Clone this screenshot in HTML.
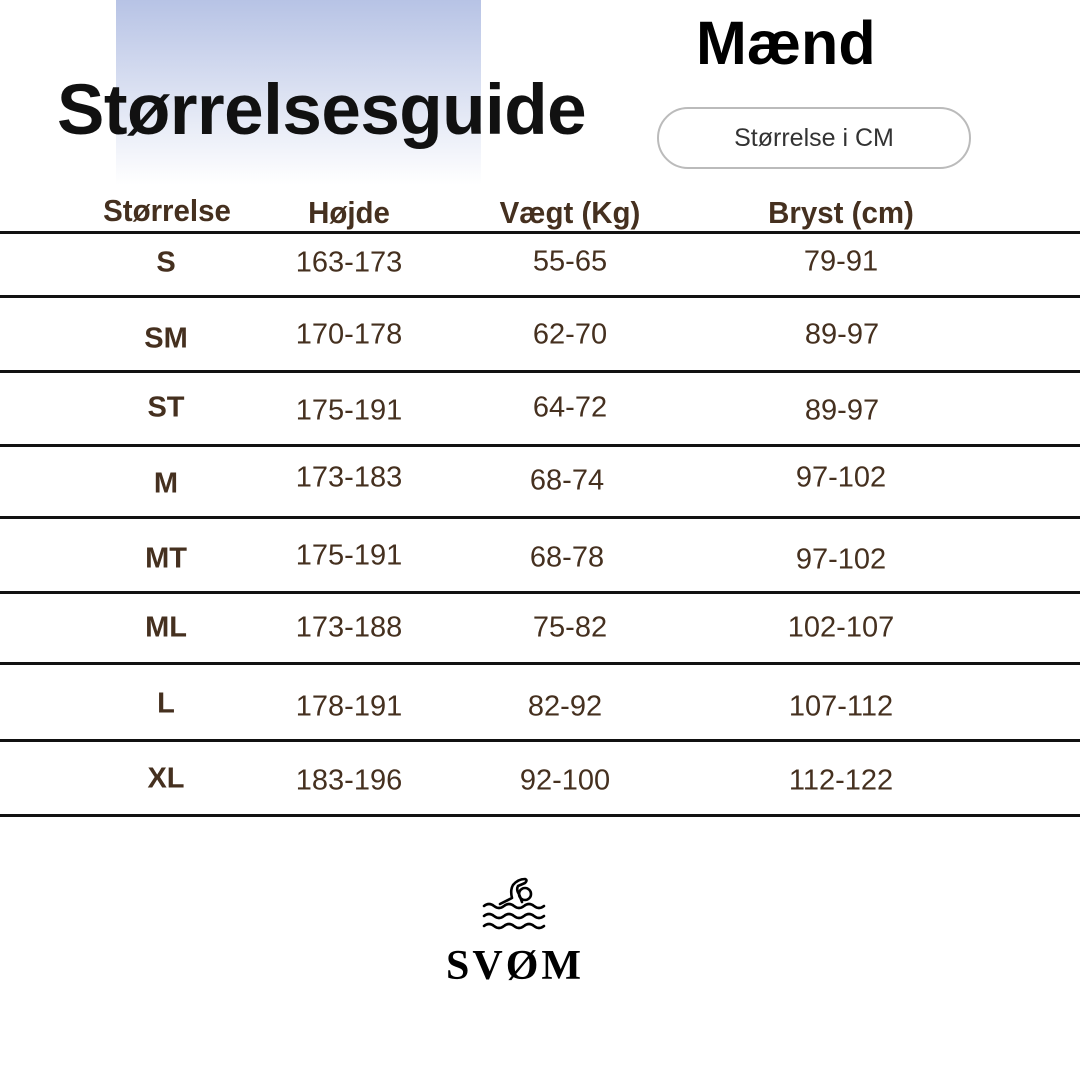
<!DOCTYPE html>
<html><head><meta charset="utf-8"><style>
body{margin:0;width:1080px;height:1080px;background:#fff;position:relative;overflow:hidden;font-family:"Liberation Sans",sans-serif}
.a{position:absolute;white-space:nowrap;transform:translate(-50%,-50%);color:#45301f;font-size:29px}
.b{font-weight:bold}
.h{font-weight:bold;font-size:31px;transform:translate(-50%,-50%) scaleX(0.95)}
.l{position:absolute;left:0;width:1080px;height:3px;background:#111}
</style></head><body>
<div style="position:absolute;left:116px;top:0;width:365px;height:185px;background:linear-gradient(#b7c3e5,#fff)"></div>
<div style="position:absolute;left:57px;top:70px;font-weight:bold;font-size:71px;color:#111;letter-spacing:-0.5px">Størrelsesguide</div>
<div style="position:absolute;left:696px;top:8px;font-weight:bold;font-size:61px;color:#000">Mænd</div>
<div style="position:absolute;left:657px;top:107px;width:310px;height:58px;border:2px solid #bbb;border-radius:31px;text-align:center;line-height:58px;font-size:25px;color:#333">Størrelse i CM</div>
<div class="a h" style="left:167px;top:211px">Størrelse</div>
<div class="a h" style="left:349px;top:213px">Højde</div>
<div class="a h" style="left:570px;top:213px">Vægt (Kg)</div>
<div class="a h" style="left:841px;top:213px">Bryst (cm)</div>
<div class="l" style="top:231px"></div><div class="l" style="top:295px"></div><div class="l" style="top:370px"></div><div class="l" style="top:444px"></div><div class="l" style="top:516px"></div><div class="l" style="top:591px"></div><div class="l" style="top:662px"></div><div class="l" style="top:739px"></div><div class="l" style="top:814px"></div>

<div class="a b" style="left:166px;top:263px">S</div><div class="a" style="left:349px;top:263px">163-173</div><div class="a" style="left:570px;top:262px">55-65</div><div class="a" style="left:841px;top:262px">79-91</div>
<div class="a b" style="left:166px;top:339px">SM</div><div class="a" style="left:349px;top:335px">170-178</div><div class="a" style="left:570px;top:335px">62-70</div><div class="a" style="left:842px;top:335px">89-97</div>
<div class="a b" style="left:166px;top:408px">ST</div><div class="a" style="left:349px;top:411px">175-191</div><div class="a" style="left:570px;top:408px">64-72</div><div class="a" style="left:842px;top:411px">89-97</div>
<div class="a b" style="left:166px;top:484px">M</div><div class="a" style="left:349px;top:478px">173-183</div><div class="a" style="left:567px;top:481px">68-74</div><div class="a" style="left:841px;top:478px">97-102</div>
<div class="a b" style="left:166px;top:559px">MT</div><div class="a" style="left:349px;top:556px">175-191</div><div class="a" style="left:567px;top:558px">68-78</div><div class="a" style="left:841px;top:560px">97-102</div>
<div class="a b" style="left:166px;top:628px">ML</div><div class="a" style="left:349px;top:628px">173-188</div><div class="a" style="left:570px;top:628px">75-82</div><div class="a" style="left:841px;top:628px">102-107</div>
<div class="a b" style="left:166px;top:704px">L</div><div class="a" style="left:349px;top:707px">178-191</div><div class="a" style="left:565px;top:707px">82-92</div><div class="a" style="left:841px;top:707px">107-112</div>
<div class="a b" style="left:166px;top:779px">XL</div><div class="a" style="left:349px;top:781px">183-196</div><div class="a" style="left:565px;top:781px">92-100</div><div class="a" style="left:841px;top:781px">112-122</div>

<svg style="position:absolute;left:480px;top:874px" width="70" height="60" viewBox="0 0 70 60" fill="none" stroke="#000" stroke-width="2.6" stroke-linecap="round" stroke-linejoin="round">
<circle cx="45" cy="20" r="6"/>
<path d="M20 30 L32 24 Q30 16 33 11 Q38 5 45 5 Q48 6 45 9 L38 12 Q36 16 39 20 L42 28"/>
<path d="M4 32 q5 -4 10 0 t10 0 t10 0 t10 0 t10 0 t10 0"/>
<path d="M4 42 q5 -4 10 0 t10 0 t10 0 t10 0 t10 0 t10 0"/>
<path d="M4 52 q5 -4 10 0 t10 0 t10 0 t10 0 t10 0 t10 0"/>
</svg>
<div style="position:absolute;left:446px;top:942px;font-family:'Liberation Serif',serif;font-weight:bold;font-size:42px;color:#000;letter-spacing:3px">SVØM</div>
</body></html>
